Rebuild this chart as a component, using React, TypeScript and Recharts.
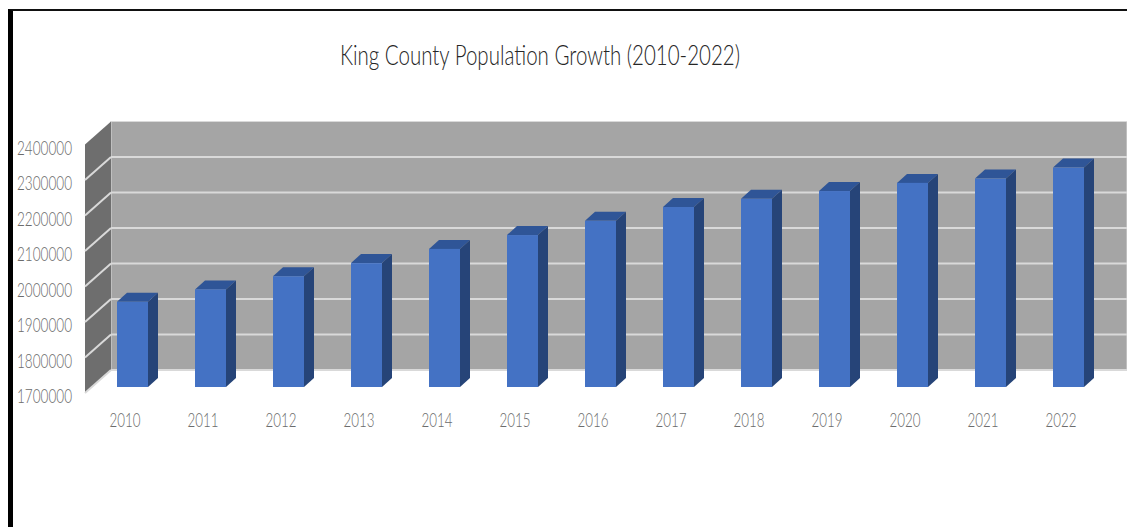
import { BarChart, Bar, XAxis, YAxis, ReferenceArea } from "recharts";

const years = ["2010", "2011", "2012", "2013", "2014", "2015", "2016", "2017", "2018", "2019", "2020", "2021", "2022"];
const population = [1940000, 1975000, 2012000, 2049000, 2089000, 2128000, 2168000, 2207000, 2230000, 2252000, 2275000, 2287000, 2318000];
const yTicks = [1700000, 1800000, 1900000, 2000000, 2100000, 2200000, 2300000, 2400000];

const rows = years.map((year, i) => ({ year, value: population[i] }));

const font = 'Lato, "Liberation Sans", sans-serif';
const yMin = yTicks[0];
const yMax = yTicks[yTicks.length - 1];

// 3D look: bars sit on a plane, back wall is shifted up/right of it, side wall joins the two
const WALL_DX = 18;
const WALL_DY = -17;
const SIDE_DX = -8;
const SIDE_DY = 6;
const BAR_DX = 10;
const BAR_DY = -9;

function Walls({ x, y, width, height }: any) {
  const bottom = y + height;
  const side = [
    [x + SIDE_DX, y + SIDE_DY],
    [x + WALL_DX, y + WALL_DY],
    [x + WALL_DX, bottom + WALL_DY],
    [x + SIDE_DX, bottom + SIDE_DY],
  ];
  return (
    <g>
      <rect x={x + WALL_DX} y={y + WALL_DY} width={width + 2} height={height} fill="#a5a5a5" stroke="#d9d9d9" strokeWidth={1} />
      <polygon points={side.map((p) => p.join(",")).join(" ")} fill="#6e6e6e" />
      {yTicks.slice(0, -1).map((t) => {
        const ty = bottom - ((t - yMin) / (yMax - yMin)) * height;
        return (
          <g key={t} stroke="#d9d9d9" strokeWidth={2}>
            <line x1={x + SIDE_DX} y1={ty + SIDE_DY} x2={x + WALL_DX} y2={ty + WALL_DY} />
            <line x1={x + WALL_DX} y1={ty + WALL_DY} x2={x + width + WALL_DX + 2} y2={ty + WALL_DY} />
          </g>
        );
      })}
    </g>
  );
}

function Box3D({ x, y, width, height }: any) {
  const r = x + width;
  const b = y + height;
  return (
    <g>
      <polygon points={`${x},${y} ${x + BAR_DX},${y + BAR_DY} ${r + BAR_DX},${y + BAR_DY} ${r},${y}`} fill="#2f5597" />
      <polygon points={`${r},${y} ${r + BAR_DX},${y + BAR_DY} ${r + BAR_DX},${b + BAR_DY} ${r},${b}`} fill="#264478" />
      <rect x={x} y={y} width={width} height={height} fill="#4472c4" />
    </g>
  );
}

function YTick({ y, payload }: any) {
  return (
    <text x={72} y={y + 16} textAnchor="end" fontFamily={font} fontWeight={300} fontSize={19} fill="#6b6b6b" textLength={55} lengthAdjust="spacingAndGlyphs">
      {payload.value}
    </text>
  );
}

function XTick({ x, y, payload }: any) {
  return (
    <text x={x - 7} y={y + 32} textAnchor="middle" fontFamily={font} fontWeight={300} fontSize={19} fill="#6b6b6b" textLength={31} lengthAdjust="spacingAndGlyphs">
      {payload.value}
    </text>
  );
}

export default function App() {
  return (
    <div style={{ position: "absolute", left: 0, top: 0, width: 1127, height: 527, background: "#fff", overflow: "hidden" }}>
      <div style={{ position: "absolute", left: 8, top: 9, width: 1119, height: 518, borderLeft: "5px solid #000", borderTop: "2px solid #111", boxSizing: "border-box" }} />
      <svg width={1127} height={80} style={{ position: "absolute", left: 0, top: 0 }}>
        <text x={340} y={65} fontFamily={font} fontWeight={300} fontSize={27} fill="#262626" textLength={400} lengthAdjust="spacingAndGlyphs">
          King County Population Growth (2010-2022)
        </text>
      </svg>
      <BarChart
        width={1127}
        height={527}
        data={rows}
        margin={{ top: 138.5, right: 20, bottom: 100, left: 0 }}
        style={{ position: "absolute", left: 0, top: 0 }}
      >
        <XAxis dataKey="year" axisLine={false} tickLine={false} height={40} interval={0} tick={<XTick />} />
        <YAxis width={93} domain={[yMin, yMax]} ticks={yTicks} axisLine={false} tickLine={false} tick={<YTick />} />
        <ReferenceArea y1={yMin} y2={yMax} shape={<Walls />} />
        <Bar dataKey="value" barSize={31} shape={<Box3D />} isAnimationActive={false} />
      </BarChart>
    </div>
  );
}
